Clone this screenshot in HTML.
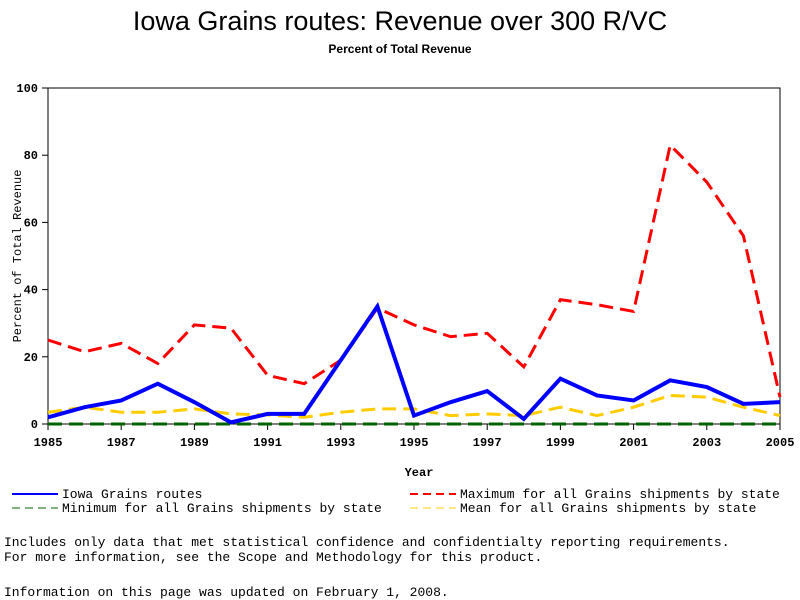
<!DOCTYPE html>
<html><head><meta charset="utf-8"><style>
body{margin:0;background:#fff;width:800px;height:600px;overflow:hidden;position:relative;font-family:"Liberation Sans",sans-serif}
.t{position:absolute;white-space:pre;color:#000}
.m{font-family:"Liberation Mono",monospace;font-size:13px}
</style></head><body>
<div class="t" style="left:0;width:800px;text-align:center;top:6px;font-size:27px">Iowa Grains routes: Revenue over 300 R/VC</div>
<div class="t" style="left:0;width:800px;text-align:center;top:42px;font-size:12px;font-weight:bold">Percent of Total Revenue</div>
<svg id="c" width="800" height="600" style="position:absolute;left:0;top:0"></svg>
<div class="t m" style="left:4px;top:535px">Includes only data that met statistical confidence and confidentialty reporting requirements.
For more information, see the Scope and Methodology for this product.</div>
<div class="t m" style="left:4px;top:585px">Information on this page was updated on February 1, 2008.</div>
<script>
const years=[1985,1986,1987,1988,1989,1990,1991,1992,1993,1994,1995,1996,1997,1998,1999,2000,2001,2002,2003,2004,2005];
const iowa=[2,5,7,12,6.5,0.5,3,3,19,35,2.5,6.5,9.8,1.5,13.5,8.5,7,13,11,6,6.5];
const maxv=[25,21.5,24,18,29.5,28.5,14.5,12,19,34.5,29.5,26,27,17,37,35.5,33.5,83,72,56,8];
const minv=[0,0,0,0,0,0,0,0,0,0,0,0,0,0,0,0,0,0,0,0,0];
const meanv=[3.5,5,3.5,3.5,4.5,3,2.7,2,3.5,4.5,4.5,2.5,3,2.5,5,2.5,5,8.5,8,5,2.5];
const yTicks=[0,20,40,60,80,100];
const xTicks=[1985,1987,1989,1991,1993,1995,1997,1999,2001,2003,2005];
const X0=48,X1=780,Y0=424,Y1=88;
const sx=v=>X0+(v-1985)/(2005-1985)*(X1-X0);
const sy=v=>Y0-v/100*(Y0-Y1);
const svg=document.getElementById('c');const NS='http://www.w3.org/2000/svg';
function mk(t,a){const e=document.createElementNS(NS,t);for(const k in a)e.setAttribute(k,a[k]);svg.appendChild(e);return e;}
let f=mk('rect',{x:X0,y:Y1,width:X1-X0,height:Y0-Y1,fill:'none',stroke:'#000','stroke-width':1});

yTicks.forEach(v=>{let l=mk('line',{x1:X0-6,x2:X0,y1:sy(v),y2:sy(v),stroke:'#000'});

let t=mk('text',{x:X0-10,y:sy(v)+4,'text-anchor':'end','font-size':12,'font-weight':'bold','font-family':'Liberation Mono, monospace'});t.textContent=v;
});
xTicks.forEach(v=>{let l=mk('line',{x1:sx(v),x2:sx(v),y1:Y0,y2:Y0+6,stroke:'#000'});

let t=mk('text',{x:sx(v),y:Y0+22,'text-anchor':'middle','font-size':12,'font-weight':'bold','font-family':'Liberation Mono, monospace'});t.textContent=v;
});
let xt=mk('text',{x:419,y:476,'text-anchor':'middle','font-size':12,'font-weight':'bold','font-family':'Liberation Mono, monospace'});xt.textContent='Year';

let yt=mk('text',{x:0,y:0,transform:'translate(21,256) rotate(-90)','text-anchor':'middle','font-size':12,'font-family':'Liberation Mono, monospace'});yt.textContent='Percent of Total Revenue';

function series(d,col,w,dash,name){let p=mk('polyline',{points:d.map((v,i)=>sx(years[i])+','+sy(v)).join(' '),fill:'none',stroke:col,'stroke-width':w,'stroke-dasharray':dash,'stroke-linejoin':'miter'});
}
series(minv,'#006400',3,'14,7','min-line');
series(meanv,'#ffcc00',3,'14,7','mean-line');
series(maxv,'#ff0000',3,'14,7','max-line');
series(iowa,'#0000ff',4,'','iowa-line');
function leg(x,y,col,dash,w,label,name){let l=mk('line',{x1:x,x2:x+46,y1:y,y2:y,stroke:col,'stroke-width':w,'stroke-dasharray':dash});

let t=mk('text',{x:x+50,y:y+4,'font-size':13,'font-family':'Liberation Mono, monospace'});t.textContent=label;
}
leg(12,494,'#0000ff','',2,'Iowa Grains routes','legend-iowa');
leg(410,494,'#ff0000','8,5',2,'Maximum for all Grains shipments by state','legend-max');
leg(12,508,'#006400','8,5',1,'Minimum for all Grains shipments by state','legend-min');
leg(410,508,'#ffcc00','8,5',1,'Mean for all Grains shipments by state','legend-mean');
</script>
</body></html>
